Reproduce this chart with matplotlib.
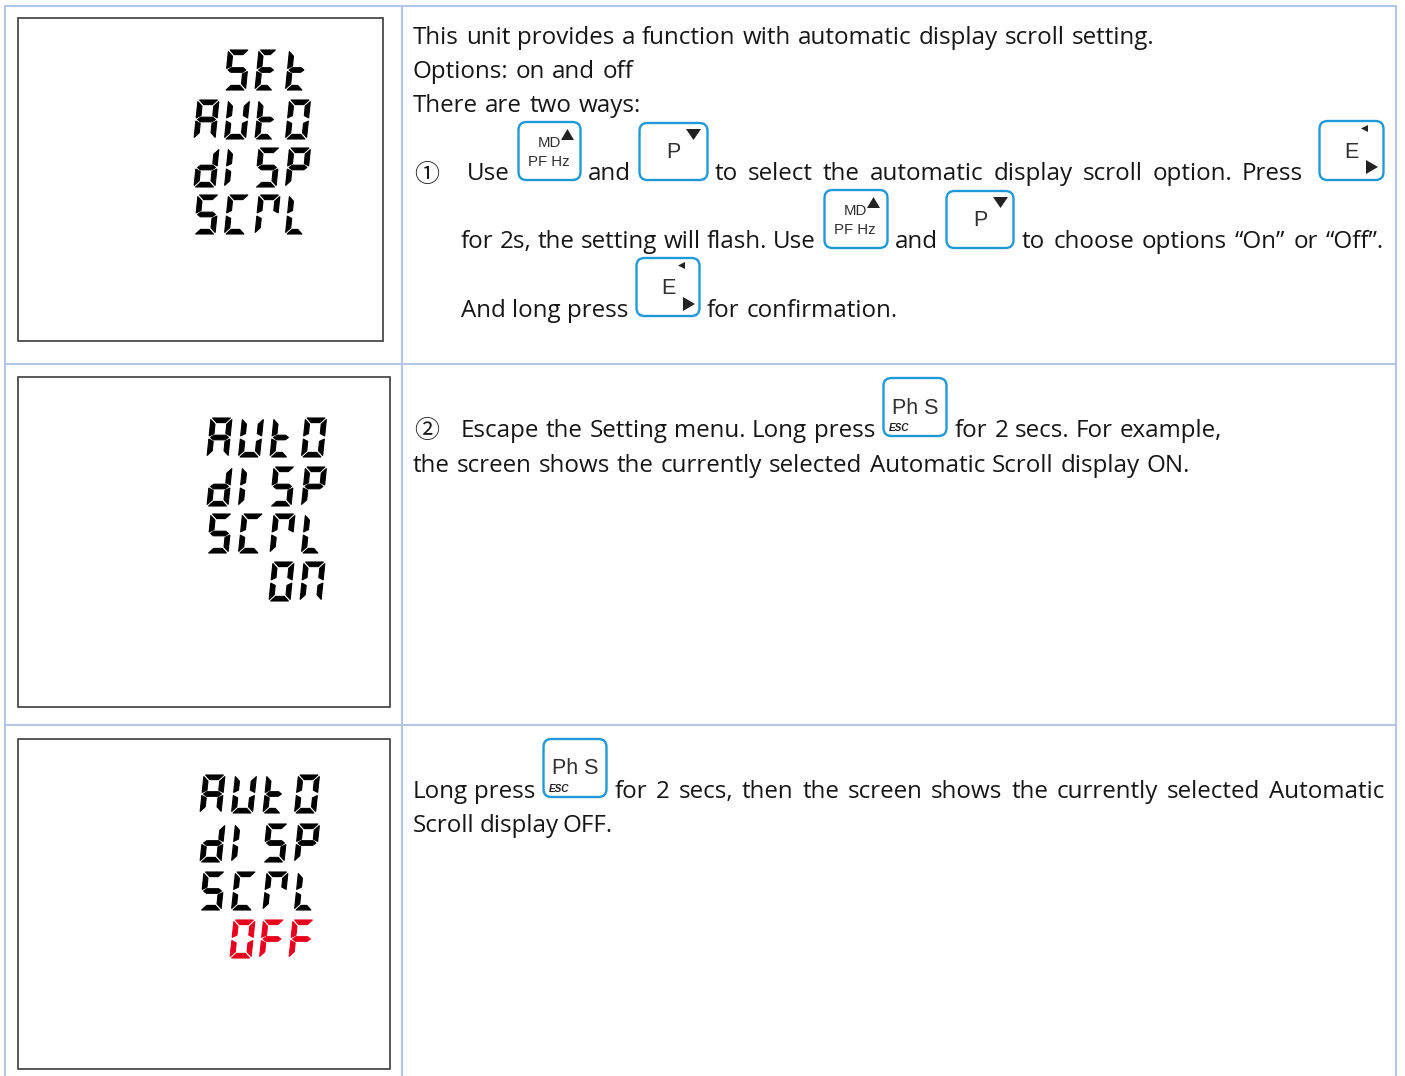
import matplotlib
matplotlib.use('Agg')
import matplotlib.pyplot as plt
from matplotlib.patches import FancyBboxPatch, Polygon, Rectangle

W, H = 1405, 1076
FONT = ['Open Sans', 'DejaVu Sans']
TEXT_SIZE = 17.4
TEXT_COL = '#161616'
BLUE = '#1f9ad6'
GREY = '#303030'
GRID = '#b4c6e7'

# table
col_lines = [5, 402, 1396]
row_lines = [6, 364, 725]

# lcd screens: left, top, right, bottom
screens = [(18, 18, 383, 341), (18, 377, 390, 707), (18, 739, 390, 1069)]

# words on the lcd: text, x of first column, top, height, pitch, colour
lcd_rows = [
    (' SEt', 194, 50, 40, 30.5, 'black'),
    ('AUtO', 194, 100, 39, 30.5, 'black'),
    ('dISP', 194, 148, 39, 30.5, 'black'),
    ('SCrL', 194, 195, 39, 30.5, 'black'),
    ('AUtO', 207, 418, 39, 31.5, 'black'),
    ('dISP', 207, 467, 39, 31.5, 'black'),
    ('SCrL', 207, 514, 39, 31.5, 'black'),
    ('  On', 207, 562, 39, 31, 'black'),
    ('AUtO', 200, 775, 38, 31.5, 'black'),
    ('dISP', 200, 824, 38, 31.5, 'black'),
    ('SCrL', 200, 872, 38, 31.5, 'black'),
    ('OFF', 230, 920, 38, 29.5, '#e8001c'),
]

# which segments each lcd character lights up
glyphs = {
    'S': 'a f g c d', 'E': 'a f g e d', 't': 'f g e d', 'A': 'a b c e f g',
    'U': 'b c d e f', 'O': 'a b c d e f', 'd': 'b c d e g', 'I': 'f e',
    'P': 'a b e f g', 'C': 'a f e d', 'r': 'a f b e', 'L': 'f e d',
    'n': 'a b c e f', 'F': 'a f g e', ' ': '',
}
narrow = ['t', 'L', 'E']

# text: string, x start, x end (words get spread to fit), baseline
text_lines = [
    ('This unit provides a function with automatic display scroll setting.', 413, 1154, 44),
    ('Options: on and off', 413, 633, 78),
    ('There are two ways:', 413, 641, 112),
    ('Use', 467, 510, 180),
    ('and', 588, 631, 180),
    ('to select the automatic display scroll option. Press', 715, 1303, 180),
    ('for 2s, the setting will flash. Use', 461, 816, 248),
    ('and', 895, 938, 248),
    ('to choose options \u201cOn\u201d or \u201cOff\u201d.', 1022, 1384, 248),
    ('And long press', 461, 628, 317),
    ('for confirmation.', 707, 898, 317),
    ('Escape the Setting menu. Long press', 461, 875, 437),
    ('for 2 secs. For example,', 955, 1222, 437),
    ('the screen shows the currently selected Automatic Scroll display ON.', 413, 1190, 472),
    ('Long press', 413, 535, 798),
    ('for 2 secs, then the screen shows the currently selected Automatic', 615, 1384, 798),
    ('Scroll display OFF.', 413, 613, 832),
]
circled = [('\u2460', 427, 175), ('\u2461', 427, 431)]

# buttons: kind, left, top, right, bottom
buttons = [
    ('md', 518, 121, 581, 181), ('p', 639, 122, 708, 181), ('e', 1319, 120, 1384, 181),
    ('md', 824, 189, 888, 249), ('p', 946, 190, 1014, 249), ('e', 636, 257, 700, 317),
    ('ph', 883, 377, 947, 437), ('ph', 543, 738, 607, 798),
]


def segment(name, w, h, t, g):
    m = h / 2
    shapes = {
        'a': [(g, 0), (w - g, 0), (w - t - g, t), (t + g, t)],
        'd': [(g, h), (w - g, h), (w - t - g, h - t), (t + g, h - t)],
        'f': [(0, g), (t, t + g), (t, m - t / 2 - g), (0, m - g)],
        'e': [(0, m + g), (t, m + t / 2 + g), (t, h - t - g), (0, h - g)],
        'b': [(w, g), (w - t, t + g), (w - t, m - t / 2 - g), (w, m - g)],
        'c': [(w, m + g), (w - t, m + t / 2 + g), (w - t, h - t - g), (w, h - g)],
        'g': [(g, m), (t, m - t / 2), (w - t, m - t / 2), (w - g, m),
              (w - t, m + t / 2), (t, m + t / 2)],
    }
    return shapes[name]


def draw_lcd(ax, s, x0, top, h, pitch, col):
    slant = 4.0
    for i, ch in enumerate(s):
        w = 18 if ch in narrow else 21
        for name in glyphs[ch].split():
            pts = segment(name, w, h, 4.6, 1.6)
            pts = [(x0 + i * pitch + x + slant * (h - y) / h, top + y) for x, y in pts]
            ax.add_patch(Polygon(pts, closed=True, fc=col, ec=col, lw=0.8, joinstyle='round'))


def put_line(ax, s, x0, x1, y, renderer):
    words = s.split(' ')
    arts = [ax.text(0, y, wd, family=FONT, fontsize=TEXT_SIZE, color=TEXT_COL, va='baseline')
            for wd in words]
    widths = [a.get_window_extent(renderer).width for a in arts]
    gap = (x1 - x0 - sum(widths)) / (len(words) - 1) if len(words) > 1 else 0
    x = x0
    for a, wd in zip(arts, widths):
        a.set_x(x)
        x += wd + gap


def tri(ax, pts):
    ax.add_patch(Polygon(pts, closed=True, fc='#222222', ec='none'))


def draw_button(ax, kind, l, t, r, b):
    ax.add_patch(FancyBboxPatch((l + 0.5, t + 1), r - l - 1, b - t - 2,
                                boxstyle='round,pad=0,rounding_size=8',
                                fc='white', ec=BLUE, lw=1.7))
    lab = dict(family='Liberation Sans', color=GREY, ha='center', va='center')
    if kind == 'md':
        ax.text(l + 31, t + 22, 'MD', fontsize=10.8, **lab)
        ax.text(l + 31, t + 41, 'PF Hz', fontsize=10.8, **lab)
        tri(ax, [(l + 43, t + 19), (l + 56, t + 19), (l + 49.5, t + 8)])
    elif kind == 'p':
        ax.text(l + 34, t + 30, 'P', fontsize=15.5, **lab)
        tri(ax, [(l + 47, t + 7), (l + 62, t + 7), (l + 54.5, t + 18)])
    elif kind == 'e':
        ax.text(l + 32, t + 32, 'E', fontsize=15.5, **lab)
        tri(ax, [(l + 49, t + 5), (l + 49, t + 12), (l + 42, t + 8.5)])
        tri(ax, [(l + 47, t + 40), (l + 47, t + 54), (l + 59, t + 47)])
    else:
        ax.text(l + 32, t + 31, 'Ph S', fontsize=15.5, **lab)
        ax.text(l + 16, t + 51, 'ESC', fontsize=7.2, family='Liberation Sans', color='#222222',
                style='italic', weight='bold', ha='center', va='center')


fig = plt.figure(figsize=(W / 100, H / 100), dpi=100)
ax = fig.add_axes([0, 0, 1, 1])
ax.set_xlim(0, W)
ax.set_ylim(H, 0)
ax.axis('off')
renderer = fig.canvas.get_renderer()

for x in col_lines:
    ax.plot([x, x], [row_lines[0] - 1, H], color=GRID, lw=1.5, solid_capstyle='butt')
for y in row_lines:
    ax.plot([col_lines[0], col_lines[-1]], [y, y], color=GRID, lw=1.5, solid_capstyle='butt')

for l, t, r, b in screens:
    ax.add_patch(Rectangle((l, t), r - l, b - t, fc='white', ec='#3c3c3c', lw=1.2))

for s, x0, top, h, pitch, col in lcd_rows:
    draw_lcd(ax, s, x0, top, h, pitch, col)

for s, x0, x1, y in text_lines:
    put_line(ax, s, x0, x1, y, renderer)

for ch, x, y in circled:
    ax.text(x, y, ch, family='Noto Sans CJK JP', fontsize=18, color=TEXT_COL, ha='center', va='center')

for kind, l, t, r, b in buttons:
    draw_button(ax, kind, l, t, r, b)

fig.savefig('out.png', dpi=100)
